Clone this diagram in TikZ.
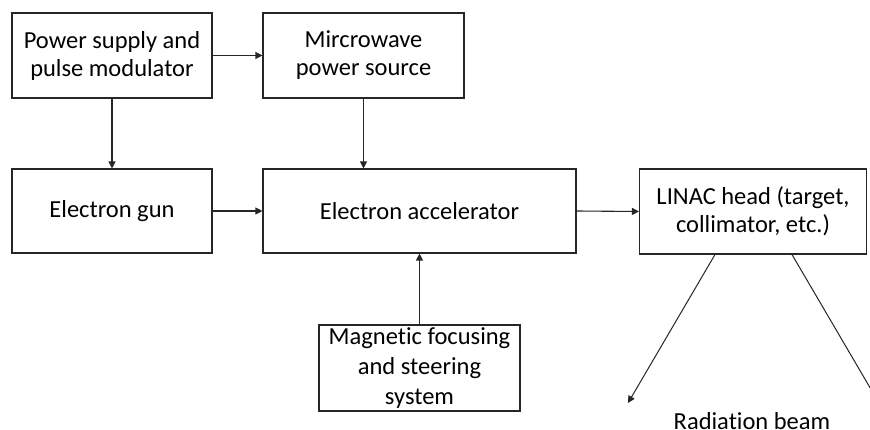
\documentclass[tikz,border=0pt]{standalone}
\usepackage{fontspec}
\setmainfont{Carlito}[Ligatures=NoCommon]
\usetikzlibrary{arrows.meta}
\begin{document}
\begin{tikzpicture}[x=1pt,y=-1pt,
  box/.style={draw=black!85, line width=1.1pt, rectangle, align=center, inner sep=0pt,
    font=\fontsize{24.5}{28}\selectfont},
  arr/.style={draw=black!85, line width=1.1pt, -{Triangle[length=7pt,width=7pt]}},
  ln/.style={draw=black!80, line width=1pt}]
\clip (0,0) rectangle (870,430);
\fill[white] (0,0) rectangle (870,430);
\node[box, minimum width=200pt, minimum height=85pt] (b1) at (112,55.5) {Power supply and\\pulse modulator};
\node[box, minimum width=201pt, minimum height=85pt] (b2) at (363.5,55.5) {Mircrowave\\power source};
\node[box, minimum width=200pt, minimum height=84pt] (b3) at (112,211) {Electron gun};
\node[box, minimum width=313pt, minimum height=84pt] (b4) at (419.5,211) {Electron accelerator};
\node[box, minimum width=227pt, minimum height=85pt] (b5) at (753,211.5) {LINAC head (target,\\collimator, etc.)};
\node[box, minimum width=201pt, minimum height=86pt, font=\fontsize{24.5}{30}\selectfont] (b6) at (419.5,368) {Magnetic focusing\\and steering\\system};
\node[font=\fontsize{24.5}{28}\selectfont, anchor=base, inner sep=0pt] (rb) at (752,429) {Radiation beam};
\coordinate (bl) at (628,403);
\coordinate (br) at (879,403);
\draw[arr] (b1.east) -- (b2.west);
\draw[arr] (b1.south) -- (b3.north);
\draw[arr] (b2.south) -- (b2.south |- b4.north);
\draw[arr] (b3.east) -- (b4.west);
\draw[arr] (b4.east) -- (b5.west);
\draw[arr] (b6.north) -- (b6.north |- b4.south);
\draw[arr, line width=1pt] ([xshift=-38pt]b5.south) -- (bl);
\draw[arr, line width=1pt] ([xshift=39pt]b5.south) -- (br);
\end{tikzpicture}
\end{document}
